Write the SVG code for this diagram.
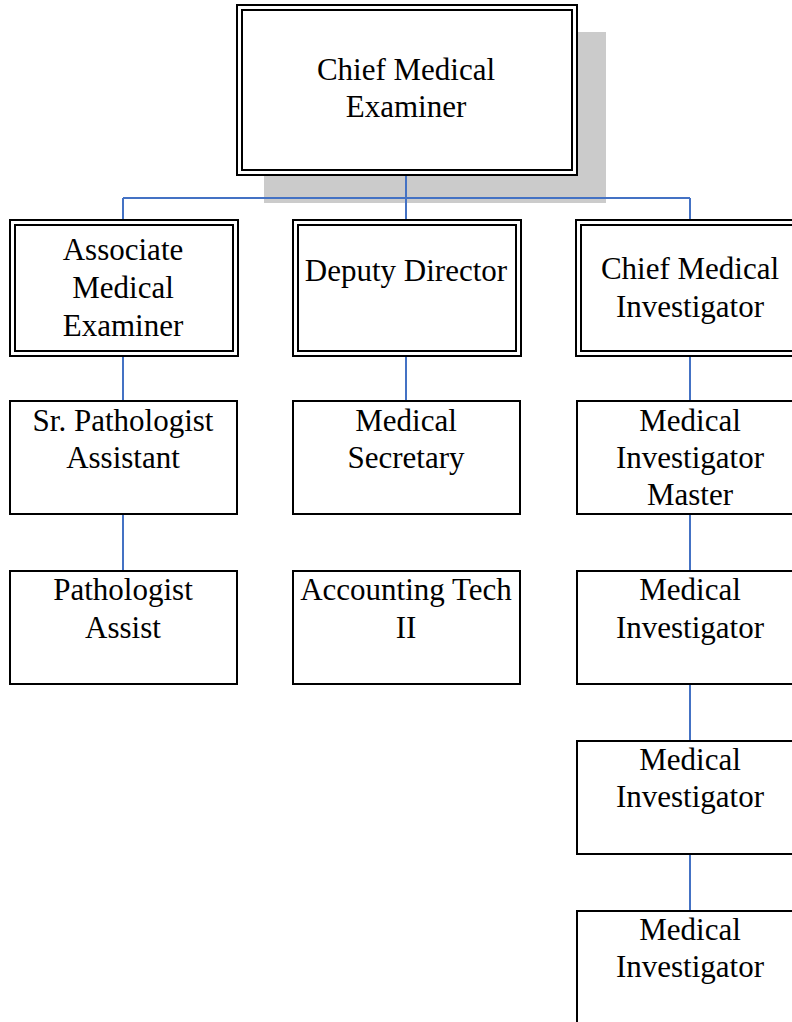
<svg xmlns="http://www.w3.org/2000/svg" width="792" height="1022" viewBox="0 0 792 1022">
  <style>
    .box { fill: #ffffff; stroke: #000000; stroke-width: 2; }
    .inner { fill: none; stroke: #000000; stroke-width: 2; }
    .shadow { fill: #cbcbcb; }
    .lbl { font-family: "Liberation Serif", "Times New Roman", serif; font-size: 31px; fill: #000000; text-anchor: middle; }
    .link { fill: none; stroke: #4472c4; stroke-width: 2; }
  </style>
  <rect width="792" height="1022" fill="#ffffff"/>

  <!-- top level -->
  <g id="chief-medical-examiner">
    <rect class="shadow" x="264" y="32" width="342" height="171"/>
    <rect class="box" x="237" y="5" width="340" height="170"/>
    <rect class="inner" x="242" y="10" width="330" height="160"/>
    <text class="lbl" x="406" y="80">Chief Medical</text>
    <text class="lbl" x="406" y="117">Examiner</text>
  </g>

  <!-- connectors (drawn over the shadow) -->
  <g id="connectors">
    <path class="link" d="M406 176 V198 M123 198 H690 M123 198 V219 M406 198 V219 M690 198 V219"/>
    <path class="link" d="M123 356 V401 M123 514 V571"/>
    <path class="link" d="M406 356 V401"/>
    <path class="link" d="M690 356 V401 M690 514 V571 M690 684 V741 M690 854 V911"/>
  </g>

  <!-- second level -->
  <g id="associate-medical-examiner">
    <rect class="box" x="10" y="220" width="228" height="136"/>
    <rect class="inner" x="15" y="225" width="218" height="126"/>
    <text class="lbl" x="123" y="260">Associate</text>
    <text class="lbl" x="123" y="298">Medical</text>
    <text class="lbl" x="123" y="336">Examiner</text>
  </g>
  <g id="deputy-director">
    <rect class="box" x="293" y="220" width="228" height="136"/>
    <rect class="inner" x="298" y="225" width="218" height="126"/>
    <text class="lbl" x="406" y="281">Deputy Director</text>
  </g>
  <g id="chief-medical-investigator">
    <rect class="box" x="576" y="220" width="228" height="136"/>
    <rect class="inner" x="581" y="225" width="218" height="126"/>
    <text class="lbl" x="690" y="279">Chief Medical</text>
    <text class="lbl" x="690" y="317">Investigator</text>
  </g>

  <!-- third level -->
  <g id="sr-pathologist-assistant">
    <rect class="box" x="10" y="401" width="227" height="113"/>
    <text class="lbl" x="123" y="431">Sr. Pathologist</text>
    <text class="lbl" x="123" y="468">Assistant</text>
  </g>
  <g id="medical-secretary">
    <rect class="box" x="293" y="401" width="227" height="113"/>
    <text class="lbl" x="406" y="431">Medical</text>
    <text class="lbl" x="406" y="468">Secretary</text>
  </g>
  <g id="medical-investigator-master">
    <rect class="box" x="577" y="401" width="227" height="113"/>
    <text class="lbl" x="690" y="431">Medical</text>
    <text class="lbl" x="690" y="468">Investigator</text>
    <text class="lbl" x="690" y="505">Master</text>
  </g>

  <!-- fourth level -->
  <g id="pathologist-assist">
    <rect class="box" x="10" y="571" width="227" height="113"/>
    <text class="lbl" x="123" y="600">Pathologist</text>
    <text class="lbl" x="123" y="638">Assist</text>
  </g>
  <g id="accounting-tech-ii">
    <rect class="box" x="293" y="571" width="227" height="113"/>
    <text class="lbl" x="406" y="600">Accounting Tech</text>
    <text class="lbl" x="406" y="638">II</text>
  </g>
  <g id="medical-investigator-1">
    <rect class="box" x="577" y="571" width="227" height="113"/>
    <text class="lbl" x="690" y="600">Medical</text>
    <text class="lbl" x="690" y="638">Investigator</text>
  </g>

  <!-- fifth and sixth levels -->
  <g id="medical-investigator-2">
    <rect class="box" x="577" y="741" width="227" height="113"/>
    <text class="lbl" x="690" y="770">Medical</text>
    <text class="lbl" x="690" y="807">Investigator</text>
  </g>
  <g id="medical-investigator-3">
    <rect class="box" x="577" y="911" width="227" height="113"/>
    <text class="lbl" x="690" y="940">Medical</text>
    <text class="lbl" x="690" y="977">Investigator</text>
  </g>
</svg>
